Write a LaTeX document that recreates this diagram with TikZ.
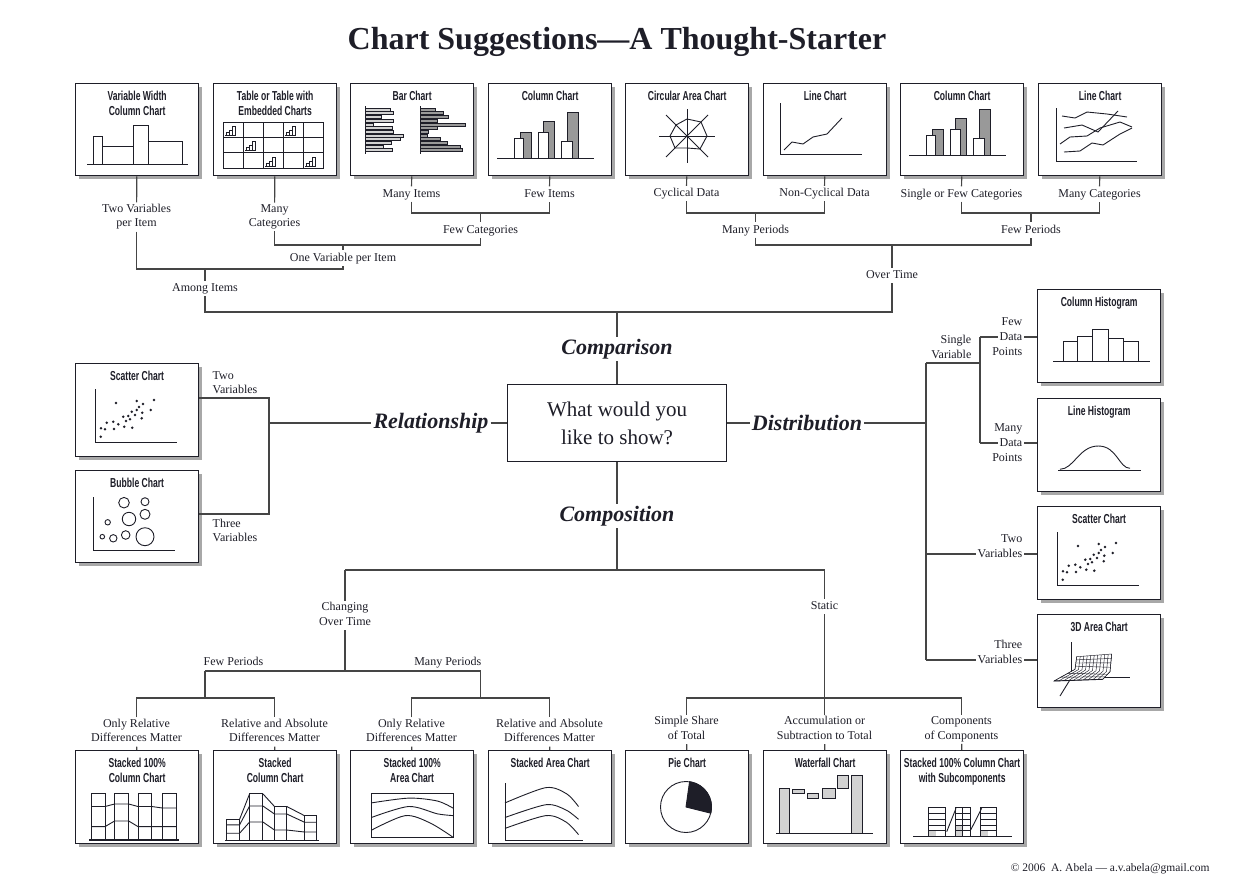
\documentclass[tikz,border=0pt]{standalone}
\usepackage{fontspec}
\setmainfont{Liberation Serif}
\newfontfamily\chartfont[FakeStretch=0.66]{Liberation Sans}
\usetikzlibrary{shadows,calc}
\definecolor{ink}{HTML}{1E1E28}
\definecolor{lineclr}{HTML}{454545}
\definecolor{shadowclr}{HTML}{A8A8A8}
\definecolor{barg}{HTML}{999999}
\definecolor{lightg}{HTML}{D2D2D2}
\newcommand\lstrut{\vrule width 0pt height 9pt depth 3pt}
\tikzset{
  conn/.style={draw=lineclr, line width=1.2pt},
  lbl/.style={font=\fontsize{12}{14.5}\selectfont, text=ink, inner sep=1.5pt, align=center,
     execute at begin node=\lstrut, execute at end node=\lstrut},
  chartbox/.style={draw=ink, line width=1.3pt, fill=white, anchor=north west,
     minimum width=123pt, inner sep=0pt,
     drop shadow={shadow xshift=3.5pt, shadow yshift=-3.5pt, fill=shadowclr, opacity=1}},
  ctitle/.style={font=\chartfont\bfseries\fontsize{13}{15}\selectfont, text=ink, inner sep=0pt, align=center},
  cat/.style={font=\bfseries\itshape\fontsize{22}{24}\selectfont, text=ink, inner sep=2pt},
  mc/.style={draw=ink, line width=0.9pt},
  thinmc/.style={draw=ink, line width=0.45pt},
}
\newcommand\mkchart[5]{%
  \node[chartbox, minimum height=#4pt] (#1) at (#2,#3) {};
  \node[ctitle, anchor=north] at ([yshift=-8pt]#1.north) {#5};
}
\newcommand\mcColumn[2]{%
  \begin{scope}[shift={(#1,#2)}]
    \draw[mc] (9,75) -- (106,75);
    \filldraw[mc, fill=barg] (32,75) rectangle (43,49);
    \filldraw[mc, fill=white] (26,75) rectangle (35,55);
    \filldraw[mc, fill=barg] (55,75) rectangle (66,38);
    \filldraw[mc, fill=white] (50,75) rectangle (60,49);
    \filldraw[mc, fill=barg] (79,75) rectangle (90,29);
    \filldraw[mc, fill=white] (73,75) rectangle (84,58);
  \end{scope}}
\newcommand\mcScatter[2]{%
  \begin{scope}[shift={(#1,#2)}]
    \draw[mc] (20,26) |- (102,79);
    \foreach \x/\y in {41/40, 61.7/38, 68/41, 79/37, 75.7/47, 67.3/49.7, 61.7/47, 56.7/48.7,
        60/52, 53.3/53, 48.3/53.7, 55/56.3, 66.7/55.3, 43.3/61.3, 38.3/58.7, 31.7/59.7,
        26/65.3, 30/66.3, 39/66, 49.3/63.7, 57.3/64.7, 25.7/73.7, 64/44, 51/58}
      \fill[ink] (\x,\y) circle (1.4pt);
  \end{scope}}
\newcommand\mcIcon[2]{%
  \draw[thinmc] (#1,#2) -- ++(11,0);
  \draw[thinmc] (#1+1,#2) rectangle ++(3,-3);
  \draw[thinmc] (#1+4,#2) rectangle ++(3,-5);
  \draw[thinmc] (#1+7,#2) rectangle ++(3,-9);
}
\begin{document}
\begin{tikzpicture}[x=1pt,y=-1pt]
\useasboundingbox (0,0) rectangle (1237,884);
\fill[white] (0,0) rectangle (1237,884);

\node[font=\bfseries\fontsize{32}{36}\selectfont, text=ink] (title) at (617,42) {Chart Suggestions---A Thought-Starter};

% ---------------- top row ----------------
\mkchart{t1}{75}{83}{92}{Variable Width\\Column Chart}
\mkchart{t2}{213}{83}{92}{Table or Table with\\Embedded Charts}
\mkchart{t3}{350}{83}{92}{Bar Chart}
\mkchart{t4}{488}{83}{92}{Column Chart}
\mkchart{t5}{625}{83}{92}{Circular Area Chart}
\mkchart{t6}{763}{83}{92}{Line Chart}
\mkchart{t7}{900}{83}{92}{Column Chart}
\mkchart{t8}{1038}{83}{92}{Line Chart}

% variable width
\begin{scope}[shift={(75,83)}]
  \draw[mc] (12,81) -- (113,81);
  \draw[mc] (18,81) rectangle (27,53);
  \draw[mc] (27,81) rectangle (58,63);
  \draw[mc] (58,81) rectangle (73,42);
  \draw[mc] (73,81) rectangle (107,58);
\end{scope}
% table
\begin{scope}[shift={(213,83)}]
  \draw[mc] (10,39) rectangle (110,85);
  \foreach \x in {30,50,70,90} \draw[mc] (\x,39) -- (\x,85);
  \foreach \y in {54.3,69.7} \draw[mc] (10,\y) -- (110,\y);
  \mcIcon{12}{52}
  \mcIcon{72}{52}
  \mcIcon{32}{67.5}
  \mcIcon{52}{83}
  \mcIcon{92}{83}
\end{scope}
% bar chart
\begin{scope}[shift={(350,83)}]
  \foreach \i/\e in {0/40,1/43,2/31,3/43,4/23,5/42,6/43,7/53,8/50,9/41,10/33,11/42}
    \filldraw[draw=ink, line width=0.6pt, fill=lightg] (15,25+3.7*\i) rectangle (\e,25+3.7*\i+3);
  \draw[mc] (15,23) -- (15,71);
  \foreach \i/\e in {0/85,1/93,2/98,3/87,4/115,5/87,6/78,7/77,8/90,9/97,10/110,11/112}
    \filldraw[draw=ink, line width=0.6pt, fill=barg] (70,25+3.7*\i) rectangle (\e,25+3.7*\i+3);
  \draw[mc] (70,23) -- (70,71);
\end{scope}
% column charts
\mcColumn{488}{83}
\mcColumn{900}{80}
% circular area
\begin{scope}[shift={(687,136)}]
  \draw[mc] (-28,0) -- (28,0);
  \draw[mc] (0,-27) -- (0,27);
  \draw[mc] (-21,-21) -- (21,21);
  \draw[mc] (-21,21) -- (21,-21);
  \draw[mc] (20,0) -- (13,13) -- (0,12) -- (-12,12) -- (-17,0) -- (-11,-11) -- (0,-17) -- (14,-14) -- cycle;
\end{scope}
% line chart
\begin{scope}[shift={(763,83)}]
  \draw[mc] (17,20) |- (99,71);
  \draw[mc] (21,67) -- (29,59) -- (40,61) -- (50,54) -- (64,51) -- (79,35);
\end{scope}
% line chart many
\begin{scope}[shift={(1038,83)}]
  \draw[mc] (18,25) |- (99,78);
  \draw[mc] (24,33) -- (37,35) -- (49,29) -- (69,31) -- (89,34);
  \draw[mc] (26,45) -- (44,42) -- (60,49) -- (80,28);
  \draw[mc] (22,61) -- (32,54) -- (49,53) -- (62,45) -- (82,39) -- (94,44);
  \draw[mc] (26,69) -- (42,68) -- (54,60) -- (65,62) -- (82,51) -- (94,45);
\end{scope}

% ---------------- top tree ----------------
\node[lbl] (lTwoPer) at (136.5,217) {Two Variables\\per Item};
\node[lbl] (lManyCat) at (274.5,217) {Many\\Categories};
\node[lbl] (lManyItems) at (411.5,194) {Many Items};
\node[lbl] (lFewItems) at (549.5,194) {Few Items};
\node[lbl] (lFewCat) at (480.5,230) {Few Categories};
\node[lbl] (lOneVar) at (343,258) {One Variable per Item};
\node[lbl] (lAmong) at (205,288.5) {Among Items};
\node[lbl] (lCyc) at (686.5,193.5) {Cyclical Data};
\node[lbl] (lNonCyc) at (824.5,193.5) {Non-Cyclical Data};
\node[lbl] (lSFC) at (961.5,194) {Single or Few Categories};
\node[lbl] (lMC) at (1099.5,194) {Many Categories};
\node[lbl] (lManyPer) at (755.5,230) {Many Periods};
\node[lbl] (lFewPer) at (1031,230) {Few Periods};
\node[lbl] (lOver) at (892,275.5) {Over Time};

\coordinate (jItems) at (480.5,213);
\coordinate (jCyc) at (755.5,213);
\coordinate (jCat) at (1031,213);
\coordinate (jOneVar) at (343,245);
\coordinate (jOver) at (892,245);
\coordinate (jAmong) at (205,269);
\coordinate (jComp) at (617,312);

\draw[conn] (t1) -- (lTwoPer);
\draw[conn] (t2) -- (lManyCat);
\draw[conn] (t3) -- (lManyItems);
\draw[conn] (t4) -- (lFewItems);
\draw[conn] (t5) -- (lCyc);
\draw[conn] (t6) -- (lNonCyc);
\draw[conn] (t7) -- (lSFC);
\draw[conn] (t8) -- (lMC);
\draw[conn] (lManyItems) |- (jItems) -| (lFewItems);
\draw[conn] (jItems) -- (lFewCat);
\draw[conn] (lManyCat) |- (jOneVar) -| (lFewCat);
\draw[conn] (jOneVar) -- (lOneVar);
\draw[conn] (lTwoPer) |- (jAmong) -| (lOneVar);
\draw[conn] (jAmong) -- (lAmong);
\draw[conn] (lCyc) |- (jCyc) -| (lNonCyc);
\draw[conn] (jCyc) -- (lManyPer);
\draw[conn] (lSFC) |- (jCat) -| (lMC);
\draw[conn] (jCat) -- (lFewPer);
\draw[conn] (lManyPer) |- (jOver) -| (lFewPer);
\draw[conn] (jOver) -- (lOver);
\draw[conn] (lAmong) |- (jComp) -| (lOver);

% ---------------- centre ----------------
\node[draw=ink, line width=1.2pt, minimum width=219pt, minimum height=77pt, align=center,
      font=\fontsize{21}{28}\selectfont, text=ink] (q) at (617,423) {What would you\\like to show?};
\node[cat] (kComp) at (617,349) {Comparison};
\node[cat] (kRel) at (431,423) {Relationship};
\node[cat] (kDist) at (807,423) {Distribution};
\node[cat] (kCompo) at (617,516) {Composition};
\draw[conn] (jComp) -- (kComp);
\draw[conn] (kComp) -- (q);
\draw[conn] (kRel) -- (q);
\draw[conn] (q) -- (kDist);
\draw[conn] (q) -- (kCompo);

% ---------------- relationship ----------------
\mkchart{rs}{75}{363}{93}{Scatter Chart}
\mkchart{rb}{75}{470}{92}{Bubble Chart}
\mcScatter{75}{363}
\begin{scope}[shift={(75,470)}]
  \draw[mc] (18,27) |- (100,80);
  \foreach \x/\y/\r in {49/32.7/5.3, 70/31.7/4, 54/49/6.7, 70/44.3/5, 32.7/52.3/2.7,
      27.3/66.7/2.3, 38.3/68.3/3.7, 50.7/65/4.3, 70/66.7/9}
    \draw[mc] (\x,\y) circle (\r pt);
\end{scope}
\coordinate (jRel) at (269,423);
\coordinate (jRel2) at (269,398);
\coordinate (jRel3) at (269,514);
\draw[conn] (rs.east |- jRel2) -- (jRel2) -- (jRel3) -- (rb.east |- jRel3);
\draw[conn] (jRel) -- (kRel);
\node[lbl, anchor=south west, align=left] (lRTwo) at (211,398.5) {Two\\Variables};
\node[lbl, anchor=north west, align=left] (lRThree) at (211,517) {Three\\Variables};

% ---------------- distribution ----------------
\mkchart{dc}{1037}{289}{93}{Column Histogram}
\mkchart{dl}{1037}{398}{93}{Line Histogram}
\mkchart{ds}{1037}{506}{93}{Scatter Chart}
\mkchart{d3}{1037}{614}{93}{3D Area Chart}
\begin{scope}[shift={(1037,289)}]
  \draw[mc] (16,72) -- (113,72);
  \draw[mc] (26.3,72) rectangle (40.7,52);
  \draw[mc] (40.7,72) rectangle (55.7,47);
  \draw[mc] (55.7,72) rectangle (71.3,40);
  \draw[mc] (71.3,72) rectangle (86.3,49.3);
  \draw[mc] (86.3,72) rectangle (101.3,52);
\end{scope}
\begin{scope}[shift={(1037,398)}]
  \draw[mc] (21,72) -- (104,72);
  \draw[mc] (23,71.3) .. controls (37,71) and (42,48) .. (61.3,48) .. controls (80,48) and (82,70.3) .. (93,70.3);
\end{scope}
\mcScatter{1037}{506}
\begin{scope}[shift={(1037,614)}]
  \draw[mc] (34.7,28) -- (34.7,63) -- (93,63);
  \draw[mc] (34.7,63) -- (23,82);
  \coordinate (gA) at (17,67);
  \coordinate (gB) at (65.7,65.3);
  \coordinate (gE) at (38,55.3);
  \coordinate (gF) at (73,57.7);
  \coordinate (gC) at (39.7,42.7);
  \coordinate (gD) at (74.7,40);
  \filldraw[thinmc, fill=white] (gA) -- (gB) -- (gF) -- (gD) -- (gC) -- (gE) -- cycle;
  \foreach \t in {0,0.1,0.2,0.3,0.4,0.5,0.6,0.7,0.8,0.9,1}
    \draw[thinmc] ($(gA)!\t!(gB)$) -- ($(gE)!\t!(gF)$) -- ($(gC)!\t!(gD)$);
  \foreach \s in {0.33,0.66}
    \draw[thinmc] ($(gA)!\s!(gE)$) -- ($(gB)!\s!(gF)$);
  \foreach \s in {0.25,0.5,0.75}
    \draw[thinmc] ($(gE)!\s!(gC)$) -- ($(gF)!\s!(gD)$);
  \draw[mc] (gA) -- (gB);
\end{scope}

\coordinate (jDist) at (926,423);
\coordinate (jD1) at (926,363);
\coordinate (jD3) at (926,554);
\coordinate (jD4) at (926,660);
\coordinate (jSV) at (980,363);
\coordinate (jFD) at (980,337);
\coordinate (jMD) at (980,443);
\draw[conn] (kDist) -- (jDist);
\draw[conn] (jD1) -- (jD4);
\draw[conn] (jD1) -- (jSV);
\draw[conn] (jFD) -- (jMD);
\node[lbl, anchor=south east, align=right] (lSV) at (973,363) {Single\\Variable};
\node[lbl, anchor=east] (lFew) at (1024,322) {Few};
\node[lbl, anchor=east] (lFD) at (1024,337) {Data};
\node[lbl, anchor=east] (lFP) at (1024,352) {Points};
\node[lbl, anchor=east] (lMany) at (1024,428) {Many};
\node[lbl, anchor=east] (lMD) at (1024,443) {Data};
\node[lbl, anchor=east] (lMP) at (1024,458) {Points};
\node[lbl, anchor=east] (lDTwo) at (1024,539) {Two};
\node[lbl, anchor=east] (lDTV) at (1024,554) {Variables};
\node[lbl, anchor=east] (lDThree) at (1024,645) {Three};
\node[lbl, anchor=east] (lDThV) at (1024,660) {Variables};
\draw[conn] (jFD) -- (lFD);
\draw[conn] (lFD) -- (dc.west |- lFD);
\draw[conn] (jMD) -- (lMD);
\draw[conn] (lMD) -- (dl.west |- lMD);
\draw[conn] (jD3) -- (lDTV);
\draw[conn] (lDTV) -- (ds.west |- lDTV);
\draw[conn] (jD4) -- (lDThV);
\draw[conn] (lDThV) -- (d3.west |- lDThV);

% ---------------- composition ----------------
\coordinate (jC0) at (617,570);
\coordinate (jCL) at (345,570);
\coordinate (jCR) at (824.5,570);
\draw[conn] (kCompo) -- (jC0);
\draw[conn] (jCL) -- (jCR);
\node[lbl] (lChg) at (345,615.5) {Changing\\Over Time};
\coordinate (jPer) at (345,671);
\coordinate (jFP) at (205,671);
\coordinate (jMP) at (480.5,671);
\coordinate (jFP2) at (205,698);
\coordinate (jMP2) at (480.5,698);
\draw[conn] (jCL) -- (lChg);
\draw[conn] (lChg) -- (jPer);
\draw[conn] (jFP) -- (jMP);
\node[lbl, anchor=south west] (lFPer) at (202,670) {Few Periods};
\node[lbl, anchor=south east] (lMPer) at (483,670) {Many Periods};
\node[lbl] (o1) at (136.5,732) {Only Relative\\Differences Matter};
\node[lbl] (o2) at (274.5,732) {Relative and Absolute\\Differences Matter};
\node[lbl] (o3) at (411.5,732) {Only Relative\\Differences Matter};
\node[lbl] (o4) at (549.5,732) {Relative and Absolute\\Differences Matter};
\draw[conn] (jFP) -- (jFP2);
\draw[conn] (o1) |- (jFP2) -| (o2);
\draw[conn] (jMP) -- (jMP2);
\draw[conn] (o3) |- (jMP2) -| (o4);

\node[lbl] (lSt) at (824.5,606.5) {Static};
\node[lbl] (s1) at (686.5,729.5) {Simple Share\\of Total};
\node[lbl] (s2) at (824.5,729.5) {Accumulation or\\Subtraction to Total};
\node[lbl] (s3) at (961.5,729.5) {Components\\of Components};
\coordinate (jS) at (824.5,698);
\draw[conn] (jCR) -- (lSt);
\draw[conn] (lSt) -- (s2);
\draw[conn] (s1) |- (jS) -| (s3);

\mkchart{c1}{75}{750}{93}{Stacked 100\%\\Column Chart}
\mkchart{c2}{213}{750}{93}{Stacked\\Column Chart}
\mkchart{c3}{350}{750}{93}{Stacked 100\%\\Area Chart}
\mkchart{c4}{488}{750}{93}{Stacked Area Chart}
\mkchart{c5}{625}{750}{93}{Pie Chart}
\mkchart{c6}{763}{750}{93}{Waterfall Chart}
\mkchart{c7}{900}{750}{93}{Stacked 100\% Column Chart\\with Subcomponents}
\draw[conn] (o1) -- (c1);
\draw[conn] (o2) -- (c2);
\draw[conn] (o3) -- (c3);
\draw[conn] (o4) -- (c4);
\draw[conn] (s1) -- (c5);
\draw[conn] (s2) -- (c6);
\draw[conn] (s3) -- (c7);

% stacked 100% column
\begin{scope}[shift={(75,750)}]
  \foreach \a/\b in {16.5/30, 39.6/53.7, 63/76.8, 87.4/101.6}
    \draw[mc] (\a,90) rectangle (\b,43);
  \draw[mc] (16.5,56.5) -- (30,56.5) -- (39.6,54) -- (53.7,54) -- (63,56.5) -- (76.8,56.5) -- (87.4,58) -- (101.6,58);
  \draw[mc] (16.5,76.6) -- (30,76.6) -- (39.6,71) -- (53.7,71) -- (63,76.6) -- (76.8,76.6) -- (87.4,76.6) -- (101.6,76.6);
  \draw[mc, line width=1.2pt] (14,90) -- (104,90);
\end{scope}
% stacked column
\begin{scope}[shift={(213,750)}]
  \draw[mc] (13.3,90.4) rectangle (26.6,69.3);
  \draw[mc] (36.6,90.4) rectangle (49.9,43.8);
  \draw[mc] (61.5,90.4) rectangle (73.8,56.5);
  \draw[mc] (91.4,90.4) rectangle (103.7,65.6);
  \draw[mc] (13.3,74.8) -- (26.6,74.8) -- (36.6,56) -- (49.9,56) -- (61.5,64) -- (73.8,64) -- (91.4,72.2) -- (103.7,72.2);
  \draw[mc] (13.3,83.2) -- (26.6,83.2) -- (36.6,72) -- (49.9,72) -- (61.5,80) -- (73.8,80) -- (91.4,82) -- (103.7,82);
  \draw[mc] (26.6,69.3) -- (36.6,43.8);
  \draw[mc] (49.9,43.8) -- (61.5,56.5);
  \draw[mc] (73.8,56.5) -- (91.4,65.6);
  \draw[mc, line width=1.2pt] (12,90.4) -- (106,90.4);
\end{scope}
% stacked 100% area
\begin{scope}[shift={(350,750)}]
  \draw[mc] (21.4,43) rectangle (103.4,87.5);
  \draw[mc] plot[smooth] coordinates {(21.4,52.9) (58.8,48.1) (87.3,51) (103.4,58.3)};
  \draw[mc] plot[smooth] coordinates {(21.4,67.5) (58.8,56.5) (87.3,63.8) (103.4,65.6)};
  \draw[mc] plot[smooth] coordinates {(21.4,80.2) (55.3,65.6) (80.2,73) (103.4,87.5)};
\end{scope}
% stacked area
\begin{scope}[shift={(488,750)}]
  \draw[mc] (17,33) |- (95,90.4);
  \draw[mc] plot[smooth] coordinates {(17,52.9) (58,37.6) (78.6,43.8) (90.5,56.5)};
  \draw[mc] plot[smooth] coordinates {(17,67.5) (58,54.7) (78,60) (90.5,69.3)};
  \draw[mc] plot[smooth] coordinates {(17,78.4) (58,65.6) (78,72) (90.5,84.6)};
\end{scope}
% pie
\begin{scope}[shift={(625,750)}]
  \draw[mc] (61,57) circle (25.5pt);
  \filldraw[mc, fill=ink] (61,57) -- ++(-82:25.5) arc[start angle=-82, end angle=14, radius=25.5] -- cycle;
\end{scope}
% waterfall
\begin{scope}[shift={(763,750)}]
  \filldraw[mc, fill=lightg] (16.3,83.3) rectangle (26.3,38.3);
  \filldraw[mc, fill=lightg] (29.7,39) rectangle (41.3,43.3);
  \filldraw[mc, fill=lightg] (44.3,43.3) rectangle (55.3,48.3);
  \filldraw[mc, fill=lightg] (59.7,38.3) rectangle (72,48.3);
  \filldraw[mc, fill=lightg] (74.3,25.7) rectangle (85.3,38.3);
  \filldraw[mc, fill=lightg] (88.7,83.3) rectangle (99.3,25.7);
  \draw[mc, line width=1.2pt] (13,83.3) -- (110.3,83.3);
\end{scope}
% stacked 100% column with subcomponents
\begin{scope}[shift={(900,750)}]
  \fill[lightg] (28.3,80) rectangle (36,86.7);
  \fill[lightg] (55,75) rectangle (62.5,86.7);
  \fill[lightg] (80,80) rectangle (88,86.7);
  \foreach \a/\b in {28.3/45, 55/70, 80/96} {
    \draw[mc] (\a,86.7) rectangle (\b,57.3);
    \foreach \y in {63.3,69.3,75,80} \draw[mc] (\a,\y) -- (\b,\y);
  }
  \draw[mc] (62.5,57.3) -- (62.5,86.7);
  \draw[mc] (46.7,81.7) -- (56,58.3);
  \draw[mc] (70.7,80) -- (81.7,58.3);
  \draw[mc, line width=1.2pt] (13.3,86.7) -- (111.7,86.7);
\end{scope}

\node[font=\fontsize{11.5}{13}\selectfont, text=ink, anchor=east] (copy) at (1213,869) {© 2006\ \ A. Abela --- a.v.abela@gmail.com};
\end{tikzpicture}
\end{document}
